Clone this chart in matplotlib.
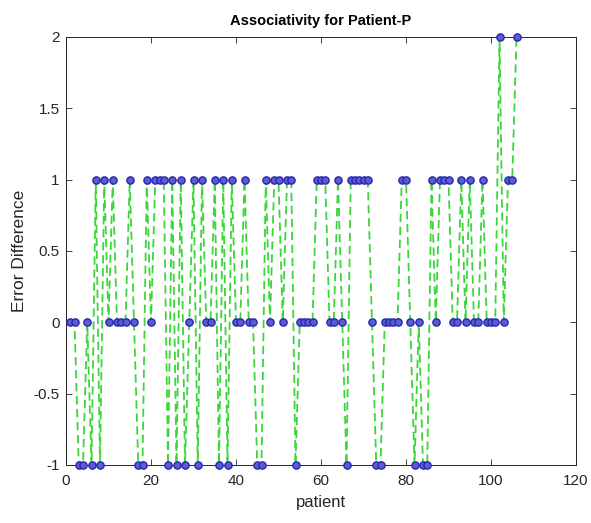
import matplotlib
matplotlib.use("Agg")
import matplotlib.pyplot as plt

patient = list(range(1, 107))
error_diff = [
    0, 0, -1, -1, 0, -1, 1, -1, 1, 0,      # 1-10
    1, 0, 0, 0, 1, 0, -1, -1, 1, 0,        # 11-20
    1, 1, 1, -1, 1, -1, 1, -1, 0, 1,       # 21-30
    -1, 1, 0, 0, 1, -1, 1, -1, 1, 0,       # 31-40
    0, 1, 0, 0, -1, -1, 1, 0, 1, 1,        # 41-50
    0, 1, 1, -1, 0, 0, 0, 0, 1, 1,         # 51-60
    1, 0, 0, 1, 0, -1, 1, 1, 1, 1,         # 61-70
    1, 0, -1, -1, 0, 0, 0, 0, 1, 1,        # 71-80
    0, -1, 0, -1, -1, 1, 0, 1, 1, 1,       # 81-90
    0, 0, 1, 0, 1, 0, 0, 1, 0, 0,          # 91-100
    0, 2, 0, 1, 1, 2,                      # 101-106
]
x_ticks = [0, 20, 40, 60, 80, 100, 120]
y_ticks = [-1, -0.5, 0, 0.5, 1, 1.5, 2]
y_tick_labels = ["-1", "-0.5", "0", "0.5", "1", "1.5", "2"]

plt.rcParams['font.family'] = ['Liberation Sans', 'DejaVu Sans']
plt.rcParams['axes.unicode_minus'] = False

fig = plt.figure(figsize=(5.91, 5.23), dpi=100)
ax = fig.add_axes([66 / 591, 1 - 465 / 523, (576 - 66) / 591, (465 - 37) / 523])

ax.plot(patient, error_diff, linestyle='--', color='#3ad63a', linewidth=1.3,
        dashes=(4.6, 2.6),
        marker='o', markersize=5.2, markerfacecolor='#5c5cd0',
        markeredgecolor='#2626b0', markeredgewidth=1.0, clip_on=False, zorder=3)

ax.set_xlim(0, 120)
ax.set_ylim(-1, 2)
ax.set_xticks(x_ticks)
ax.set_yticks(y_ticks)
ax.set_yticklabels(y_tick_labels)
axis_col = '#262626'
ax.tick_params(direction='in', length=4, width=0.6, colors=axis_col,
               labelsize=11, top=True, right=True)
ax.tick_params(axis='x', pad=6.5)
ax.tick_params(axis='y', pad=4.5)
for s in ax.spines.values():
    s.set_color(axis_col)
    s.set_linewidth(0.7)

ax.set_title('Associativity for Patient-P', fontsize=10.5, fontweight='bold', pad=9)
ax.set_xlabel('patient', fontsize=12, color=axis_col, labelpad=5)
ax.set_ylabel('Error Difference', fontsize=12.5, color=axis_col, labelpad=5)

fig.savefig('out.png', dpi=100, facecolor='white')
